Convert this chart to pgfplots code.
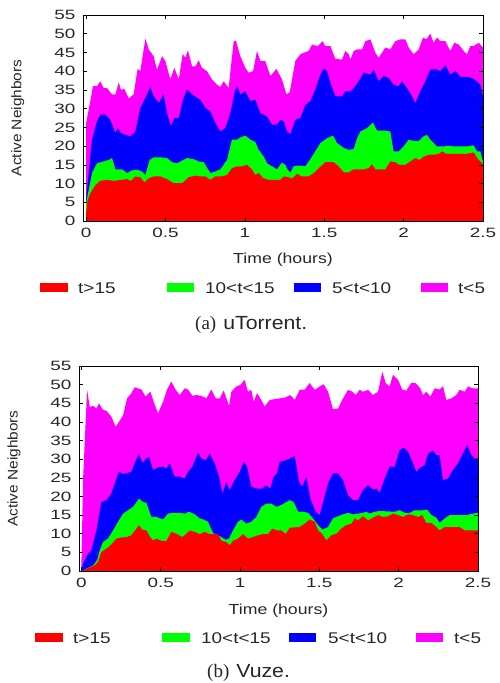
\documentclass[border=0pt]{standalone}
\usepackage{fontspec}
\usepackage{pgfplots}
\usepackage{pgfplotstable}
\pgfplotsset{compat=1.18}
\newfontfamily\gpfont{Liberation Sans}[FakeStretch=1.4]
\newfontfamily\labfont{Liberation Sans}[FakeStretch=1.22]
\newfontfamily\ylabfont{Liberation Sans}[FakeStretch=1.1]
\newfontfamily\capsans{Liberation Sans}[FakeStretch=1.12]
\newfontfamily\capserif{Liberation Serif}

\definecolor{gpred}{RGB}{255,0,0}
\definecolor{gpgreen}{RGB}{0,255,0}
\definecolor{gpblue}{RGB}{0,0,255}
\definecolor{gpmag}{RGB}{255,0,255}

% uTorrent: cumulative tops of each band
\pgfplotstableread{
t v
0.000 26
0.027 32
0.044 36
0.069 36
0.090 37.3
0.111 35.5
0.132 35.5
0.164 33.8
0.185 33.8
0.206 37
0.220 35
0.241 35.3
0.269 32.7
0.300 33.8
0.325 40.6
0.342 40
0.374 48.7
0.395 45.8
0.426 44
0.447 40.4
0.479 44
0.500 42.7
0.531 37.8
0.556 40.9
0.584 37.8
0.609 44.6
0.626 43.6
0.642 45.6
0.668 41.3
0.689 41.3
0.709 42.9
0.730 40.9
0.762 40
0.793 37.8
0.825 36.4
0.846 35.8
0.867 37.3
0.898 35.5
0.930 48
0.945 48
0.972 44
1.003 40.9
1.024 39.6
1.052 40
1.077 45.4
1.098 42.7
1.129 42.7
1.161 38.7
1.199 40.6
1.234 37.8
1.262 33.8
1.283 34.4
1.318 42.7
1.350 44.5
1.371 44.9
1.402 45.4
1.423 47.1
1.459 46.7
1.490 48
1.507 46.7
1.539 46.7
1.570 43.3
1.612 43.1
1.633 45.4
1.654 44.5
1.665 43.1
1.686 45.4
1.707 45.8
1.738 45.8
1.759 48
1.791 48.5
1.822 44.9
1.843 43.6
1.885 46.3
1.916 45.8
1.948 48
1.979 48.5
2.011 48.5
2.032 46.3
2.063 44.5
2.095 45.8
2.122 49
2.143 48.5
2.168 50
2.189 47.6
2.210 49
2.231 48
2.263 48
2.294 45.4
2.320 47.6
2.347 47.1
2.378 45.4
2.399 44.5
2.420 46.7
2.441 46.7
2.473 47.6
2.500 46.3
}\uMag

\pgfplotstableread{
t v
0.000 6
0.017 12.8
0.038 21.7
0.069 26.6
0.090 28.4
0.122 28.4
0.153 27
0.185 23.5
0.199 24.8
0.220 23.5
0.248 23
0.279 22.6
0.311 23.9
0.342 30.2
0.374 32.9
0.405 35.8
0.426 33.3
0.458 31.5
0.489 33.8
0.510 28.8
0.535 25.3
0.556 27.5
0.584 27.5
0.611 32.4
0.636 35.1
0.668 33.8
0.699 32.9
0.720 32.4
0.751 30.2
0.783 29.3
0.814 26.2
0.846 23.9
0.877 24.8
0.909 28.8
0.940 35.1
0.955 35.8
0.972 33.8
1.003 34.6
1.035 32
1.066 32.4
1.098 28.8
1.140 27.9
1.171 25.7
1.203 25.7
1.224 27
1.245 26.6
1.266 23.9
1.287 23.2
1.318 27
1.350 27.5
1.381 31
1.413 32
1.444 35.1
1.476 39.1
1.497 40.7
1.518 40
1.539 36.9
1.570 33.3
1.612 33.3
1.633 34.6
1.665 34.6
1.686 35.5
1.717 37.3
1.749 39.6
1.791 39.1
1.812 40.4
1.843 37.3
1.874 38.7
1.906 38.2
1.937 36.4
1.969 36
1.990 37.3
2.021 35.5
2.053 33.3
2.074 31.5
2.105 34.6
2.137 37.3
2.168 40.4
2.200 40.6
2.231 40
2.263 41.6
2.294 39.1
2.326 40
2.357 38.5
2.399 38.5
2.431 38.2
2.462 37.3
2.483 36.4
2.500 33.3
}\uBlue

\pgfplotstableread{
t v
0.000 4.7
0.017 8.3
0.038 12.8
0.069 15.4
0.111 15.9
0.143 16.3
0.164 16.8
0.185 13.8
0.227 13.8
0.258 12.8
0.290 13.5
0.321 13.7
0.353 13.2
0.374 12.3
0.401 16.3
0.426 17
0.468 17
0.510 16.8
0.542 15.7
0.573 15.4
0.605 16.1
0.636 16.8
0.678 16.5
0.709 15.9
0.741 15.7
0.783 12.8
0.814 13.2
0.846 13.8
0.888 16.3
0.919 21.7
0.951 21.7
0.972 22.3
1.003 22.8
1.035 21.7
1.066 21.1
1.087 19
1.119 17.2
1.140 15.4
1.171 14.6
1.203 13.8
1.234 15.6
1.255 15
1.270 13.7
1.287 12.9
1.308 14.6
1.339 14.8
1.381 14.6
1.413 16.5
1.444 18.6
1.476 20.8
1.518 22.1
1.555 22.8
1.581 20.8
1.623 19.5
1.654 19
1.686 19.2
1.707 22.1
1.728 23.9
1.770 24.8
1.807 26.3
1.833 24.1
1.885 24.1
1.916 23.9
1.937 18.6
1.969 18.6
2.000 19.9
2.032 21.7
2.063 21.4
2.095 21.3
2.126 22.6
2.147 23
2.168 21.7
2.189 20.8
2.210 19.9
2.252 19.9
2.284 20.1
2.315 19.9
2.357 19.9
2.399 19.9
2.441 20.2
2.462 18.6
2.483 18.6
2.500 15.9
}\uGreen

\pgfplotstableread{
t v
0.000 2
0.010 5.6
0.027 7.4
0.059 9.6
0.090 10.7
0.132 11
0.174 10.7
0.227 11
0.258 11.2
0.283 10.7
0.311 11.9
0.342 11.7
0.367 10.3
0.395 11.4
0.426 11.9
0.468 11.9
0.510 11.2
0.552 10.1
0.605 10.1
0.647 11.7
0.689 12.1
0.720 11.9
0.751 11.9
0.783 11
0.814 11.9
0.856 11.9
0.888 12.3
0.919 14.1
0.951 14.6
0.982 14.6
1.014 15
1.045 13.8
1.066 12.3
1.087 12.8
1.119 11.4
1.150 11
1.224 11
1.245 11.9
1.276 11.7
1.297 11.3
1.329 12.6
1.360 11.9
1.402 11.9
1.434 12.8
1.465 14.1
1.507 15.7
1.560 15.7
1.591 14.6
1.623 13
1.654 13
1.686 13.8
1.749 13.8
1.780 14.1
1.801 15.2
1.822 13.8
1.885 13.8
1.916 15.9
1.948 15.7
1.969 15
2.011 15
2.042 15.9
2.074 16.8
2.101 16.3
2.126 17.2
2.158 17.7
2.189 17.7
2.221 17.9
2.242 18.6
2.273 17.9
2.389 17.9
2.441 18.3
2.473 16.3
2.500 15.2
}\uRed

% Vuze: cumulative tops of each band
\pgfplotstableread{
t v
0.000 2
0.011 25
0.036 48.6
0.053 44
0.074 44.3
0.095 43.6
0.111 45
0.137 43.2
0.158 43
0.189 41.4
0.216 38.7
0.237 40
0.263 41.8
0.288 46.3
0.315 47.7
0.336 49.3
0.357 49
0.378 48.7
0.405 46.8
0.435 48.1
0.456 45.4
0.483 42.3
0.515 45.4
0.540 48.7
0.567 50.8
0.595 48.6
0.620 47.2
0.651 49
0.672 48.7
0.700 47
0.725 47.2
0.756 47
0.788 46.3
0.819 48.7
0.847 46.3
0.872 46.3
0.897 48.4
0.931 44.3
0.945 48.1
0.977 49.5
1.002 49.9
1.029 51.3
1.050 48.1
1.071 48.6
1.086 45.4
1.107 47.7
1.134 45.9
1.155 44.1
1.187 45.9
1.218 46.1
1.250 46.3
1.282 46.5
1.317 47.2
1.345 45.9
1.376 48.6
1.408 48.7
1.439 50.4
1.471 48.6
1.502 49.5
1.527 50.1
1.555 48.1
1.586 43.4
1.618 43.6
1.649 46.3
1.681 48.6
1.708 48.1
1.729 47.2
1.754 48.6
1.775 48.1
1.807 48.6
1.838 47.2
1.870 48.1
1.897 53.5
1.918 50.4
1.943 49.5
1.964 52.6
1.996 51.3
2.023 48.6
2.048 48.4
2.080 50.5
2.107 50.4
2.137 49
2.153 47.2
2.174 48.1
2.200 46.8
2.227 49
2.258 48.7
2.279 49.6
2.300 45.9
2.332 46.3
2.363 47.2
2.384 48.6
2.416 48.1
2.437 49.5
2.468 49
2.500 49
}\vMag

\pgfplotstableread{
t v
0.000 0
0.011 2
0.036 4.2
0.063 5.6
0.095 10.9
0.126 18.5
0.158 19
0.189 20.8
0.221 24.8
0.237 26.6
0.263 26
0.294 26.3
0.315 26.6
0.336 28.9
0.363 31.4
0.384 29
0.410 30.2
0.426 30.6
0.452 27.1
0.483 27.8
0.515 28
0.536 27.5
0.557 28.9
0.588 25.3
0.620 25.3
0.651 24.8
0.672 26.6
0.700 28
0.735 31.7
0.756 30.2
0.784 29.7
0.809 31.4
0.840 28.9
0.868 25.3
0.889 20.8
0.914 23.9
0.935 21.7
0.966 24.4
0.998 26.6
1.023 29.3
1.044 28
1.071 22.6
1.107 22.1
1.141 22.1
1.166 23
1.191 22.1
1.212 25.3
1.233 26.2
1.250 29.3
1.282 29.6
1.313 30.2
1.345 30.8
1.372 23.9
1.393 22.6
1.418 25.3
1.443 19.4
1.477 15.9
1.502 15
1.527 19
1.555 23.5
1.586 26.2
1.618 26.2
1.649 24.4
1.681 20.3
1.712 19
1.744 19
1.775 21.7
1.807 23
1.838 21.9
1.859 22.1
1.880 21
1.912 24.8
1.943 28
1.975 28
2.006 32.4
2.031 33.1
2.059 32
2.090 28.9
2.111 26.6
2.137 27.8
2.164 28.4
2.185 31.5
2.216 32.3
2.237 31.1
2.258 31.1
2.279 24.4
2.311 24.8
2.342 27.1
2.374 28.9
2.405 31.5
2.431 33.8
2.458 31.1
2.479 30.2
2.500 30.2
}\vBlue

\pgfplotstableread{
t v
0.000 0
0.032 0.6
0.074 1.5
0.099 2.9
0.116 5.6
0.137 7.8
0.168 8.7
0.200 10.9
0.231 13.2
0.263 15.4
0.294 16.3
0.326 17.2
0.363 19.4
0.389 18.5
0.410 18.3
0.441 14.5
0.473 14.5
0.515 13.8
0.546 15.4
0.578 15.6
0.620 15.6
0.651 15.4
0.679 15.9
0.714 15.2
0.746 14.1
0.771 13.8
0.798 13.2
0.830 10.2
0.861 9.6
0.882 9.1
0.910 8.4
0.931 8.7
0.956 10.9
0.987 13.2
1.008 13.8
1.040 12.7
1.071 13.2
1.103 14.5
1.134 17.2
1.166 18.1
1.197 18.1
1.229 17.2
1.261 17.7
1.292 18.5
1.313 19
1.338 18.5
1.366 15.9
1.397 15.9
1.429 15.6
1.460 14.1
1.492 12.3
1.519 11.1
1.555 11.8
1.586 14.1
1.618 14.7
1.649 15.2
1.681 15.6
1.712 15.2
1.744 15.4
1.775 15.6
1.796 15.9
1.817 15.4
1.849 15.9
1.880 16.1
1.975 15.9
2.006 16.3
2.038 15.6
2.069 15.6
2.101 16.3
2.153 16.3
2.179 16.5
2.206 15
2.237 14.3
2.258 12.9
2.290 14.1
2.321 15
2.426 15
2.468 15.4
2.500 15.6
}\vGreen

\pgfplotstableread{
t v
0.000 0
0.021 0.4
0.053 0.9
0.084 1.5
0.105 2.4
0.126 5.1
0.158 6
0.189 7.1
0.221 8.7
0.252 9
0.284 9.1
0.315 9.6
0.347 11.4
0.363 12.3
0.384 11.1
0.410 10.9
0.435 9
0.452 8.2
0.473 8.7
0.504 8.1
0.536 8.1
0.567 10.5
0.599 10
0.637 9.1
0.662 10
0.683 10.9
0.714 10.5
0.746 9.9
0.777 10.5
0.809 9.9
0.861 9.9
0.882 8.1
0.914 7.8
0.935 6.9
0.956 8.1
0.987 8.7
1.019 9.9
1.050 8.7
1.082 9.1
1.113 9.6
1.145 9.9
1.176 9.9
1.204 11.4
1.233 10.9
1.261 10.9
1.288 9.9
1.313 11.6
1.376 11.8
1.408 12.7
1.439 13.8
1.471 13.2
1.492 10.9
1.519 9.9
1.544 8.2
1.576 9.6
1.607 10
1.639 11.4
1.670 12.3
1.702 12.7
1.723 14.1
1.744 13.6
1.775 14.7
1.807 13.6
1.838 14.3
1.870 15
1.901 14.5
1.933 14.7
1.964 15.4
1.996 15
2.027 14.5
2.059 15.2
2.090 15
2.122 14.5
2.149 15
2.174 12.9
2.206 12.9
2.237 11.8
2.258 10.9
2.290 11.8
2.384 11.8
2.416 10.9
2.500 10.9
}\vRed

\pgfplotsset{
  gpaxis/.style={
    scale only axis,
    width=400pt, height=206pt,
    xmax=2.5, ymin=0, ymax=55,
    xtick={0,0.5,1,1.5,2,2.5},
    ytick={0,5,...,55},
    axis on top,
    axis line style={black, line width=0.9pt},
    tick style={black, line width=0.6pt},
    major tick length=4pt,
    /pgf/number format/assume math mode=true,
    tick label style={font=\gpfont\fontsize{13.5}{14}\selectfont, text=black!85},
    xticklabel style={yshift=-4pt},
    yticklabel style={xshift=-4pt},
    xlabel style={font=\labfont\fontsize{14.5}{15}\selectfont, text=black!85},
    ylabel style={font=\ylabfont\fontsize{14}{15}\selectfont, text=black!85},
    xlabel={Time (hours)},
    ylabel={Active Neighbors},
  },
  band/.style={draw=none, fill=#1},
}

\begin{document}
\begin{tikzpicture}
\path[use as bounding box] (0pt,0pt) rectangle (499pt,-683pt);

% (a) uTorrent
\begin{axis}[gpaxis, at={(83pt,-15pt)}, anchor=north west, xmin=-0.019,
    xlabel style={at={(axis description cs:0.5,-0.19)}, anchor=center},
    ylabel style={at={(axis description cs:-0.163,0.5)}, anchor=center}]
  \addplot[band=gpmag] table[x=t, y=v] {\uMag} \closedcycle;
  \addplot[band=gpblue] table[x=t, y=v] {\uBlue} \closedcycle;
  \addplot[band=gpgreen] table[x=t, y=v] {\uGreen} \closedcycle;
  \addplot[band=gpred] table[x=t, y=v] {\uRed} \closedcycle;
\end{axis}

% (b) Vuze
\begin{axis}[gpaxis, width=399pt, height=205pt, at={(79pt,-366pt)}, anchor=north west, xmin=-0.015,
    xlabel style={at={(axis description cs:0.5,-0.195)}, anchor=center},
    ylabel style={at={(axis description cs:-0.163,0.5)}, anchor=center}]
  \addplot[band=gpmag] table[x=t, y=v] {\vMag} \closedcycle;
  \addplot[band=gpblue] table[x=t, y=v] {\vBlue} \closedcycle;
  \addplot[band=gpgreen] table[x=t, y=v] {\vGreen} \closedcycle;
  \addplot[band=gpred] table[x=t, y=v] {\vRed} \closedcycle;
\end{axis}

% legends
\begin{scope}[every node/.style={anchor=base west, inner sep=0pt, text=black!85,
    font=\labfont\fontsize{15.5}{16}\selectfont}]
  \fill[gpred]   (40pt,-283pt) rectangle (68pt,-292pt);
  \fill[gpgreen] (167pt,-283pt) rectangle (194pt,-292pt);
  \fill[gpblue]  (294pt,-283pt) rectangle (321pt,-292pt);
  \fill[gpmag]   (421pt,-283pt) rectangle (448pt,-292pt);
  \node at (78pt,-293pt) {t>15};
  \node at (205pt,-293pt) {10<t<15};
  \node at (332pt,-293pt) {5<t<10};
  \node at (458pt,-293pt) {t<5};

  \fill[gpred]   (35pt,-633pt) rectangle (63pt,-642pt);
  \fill[gpgreen] (162pt,-633pt) rectangle (190pt,-642pt);
  \fill[gpblue]  (289pt,-633pt) rectangle (316pt,-642pt);
  \fill[gpmag]   (416pt,-633pt) rectangle (443pt,-642pt);
  \node at (73pt,-643pt) {t>15};
  \node at (201pt,-643pt) {10<t<15};
  \node at (328pt,-643pt) {5<t<10};
  \node at (454pt,-643pt) {t<5};
\end{scope}

% captions
\node[anchor=base west, inner sep=0pt, text=black!85] at (195pt,-329pt)
  {\capserif\fontsize{19}{20}\selectfont (a)\hspace{7pt}\capsans uTorrent.};
\node[anchor=base west, inner sep=0pt, text=black!85] at (207pt,-677pt)
  {\capserif\fontsize{19}{20}\selectfont (b)\hspace{7pt}\capsans Vuze.};
\end{tikzpicture}
\end{document}
